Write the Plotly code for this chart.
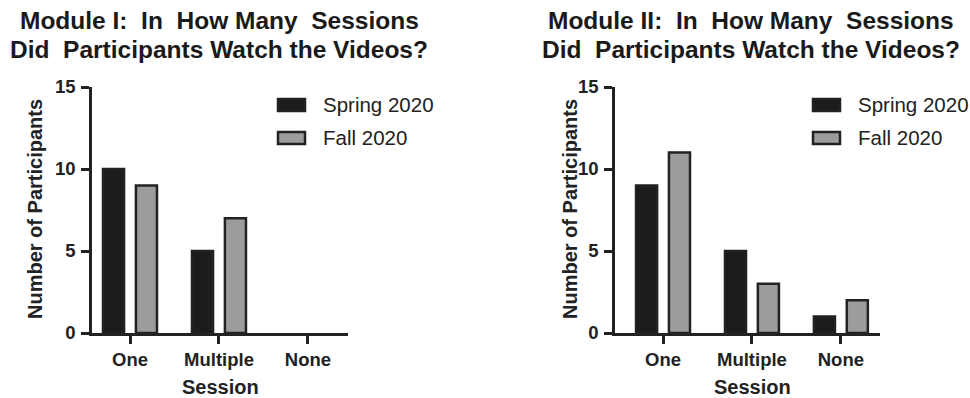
import plotly.graph_objects as go

categories = ["One", "Multiple", "None"]
series_names = ["Spring 2020", "Fall 2020"]
module1_spring = [10, 5, 0]
module1_fall = [9, 7, 0]
module2_spring = [9, 5, 1]
module2_fall = [11, 3, 2]
y_ticks = [0, 5, 10, 15]
title_lines = [
    ["Module I:  In  How Many  Sessions", "Did  Participants Watch the Videos?"],
    ["Module II:  In  How Many  Sessions", "Did  Participants Watch the Videos?"],
]
x_title = "Session"
y_title = "Number of Participants"

W, H = 970, 398
FONT = "Liberation Sans, Arial, sans-serif"
DARK = "#1c1c1c"
GRAY = "#9c9c9c"
LINE = "#222222"

fig = go.Figure()
colors = [DARK, GRAY]
for i, (sp, fa) in enumerate([(module1_spring, module1_fall), (module2_spring, module2_fall)]):
    xa = "x" if i == 0 else "x2"
    ya = "y" if i == 0 else "y2"
    for name, vals, col in zip(series_names, [sp, fa], colors):
        fig.add_trace(go.Bar(
            x=categories, y=vals, name=name, xaxis=xa, yaxis=ya,
            marker=dict(color=col, line=dict(color=LINE, width=[2.5 if v > 0 else 0 for v in vals])),
            showlegend=False, offsetgroup=name, hoverinfo="skip",
        ))

def px_x(p):
    return p / W

def px_y(p):
    return (H - p) / H

ydom = [px_y(333), px_y(87)]
axis_common = dict(
    showline=True, linewidth=2.5, linecolor=LINE, ticks="outside",
    tickwidth=2.5, tickcolor=LINE, ticklen=8, showgrid=False, zeroline=False,
    automargin=False, fixedrange=True,
    tickfont=dict(family=FONT, size=18.5, color="#222", weight="bold"),
)
fig.update_layout(
    template="none",
    width=W, height=H, margin=dict(l=0, r=0, t=0, b=0, pad=0, autoexpand=False),
    plot_bgcolor="white", paper_bgcolor="white", showlegend=False,
    bargap=0.26, bargroupgap=0.36, barmode="group",
    xaxis=dict(domain=[px_x(92), px_x(348)], range=[-0.427, 2.45], anchor="y", **axis_common),
    xaxis2=dict(domain=[px_x(615), px_x(880)], range=[-0.54, 2.44], anchor="y2", **axis_common),
    yaxis=dict(domain=ydom, range=[0, 15], tickvals=y_ticks, anchor="x", ticklabelstandoff=2, **axis_common),
    yaxis2=dict(domain=ydom, range=[0, 15], tickvals=y_ticks, anchor="x2", ticklabelstandoff=2, **axis_common),
)

annotations = []
shapes = []
panels = [
    dict(title_x=219, ytitle_x=35, xtitle_x=220, leg_x=278),
    dict(title_x=751, ytitle_x=570, xtitle_x=752, leg_x=813),
]
for lines, p in zip(title_lines, panels):
    for j, line in enumerate(lines):
        annotations.append(dict(text=line, x=px_x(p["title_x"]), y=px_y(21 + 28 * j), xref="paper", yref="paper",
                                xanchor="center", yanchor="middle", showarrow=False,
                                font=dict(family=FONT, size=24.5, color="#1a1a1a", weight="bold")))
    annotations.append(dict(text=y_title, x=px_x(p["ytitle_x"]), y=px_y(209), xref="paper", yref="paper",
                            xanchor="center", yanchor="middle", showarrow=False, textangle=-90,
                            font=dict(family=FONT, size=20, color="#222", weight="bold")))
    annotations.append(dict(text=x_title, x=px_x(p["xtitle_x"]), y=px_y(387), xref="paper", yref="paper",
                            xanchor="center", yanchor="middle", showarrow=False,
                            font=dict(family=FONT, size=20, color="#222", weight="bold")))
    for k, (name, col) in enumerate(zip(series_names, colors)):
        cy = 105 + 33 * k
        shapes.append(dict(type="rect", xref="paper", yref="paper",
                           x0=px_x(p["leg_x"]), x1=px_x(p["leg_x"] + 27),
                           y0=px_y(cy - 6), y1=px_y(cy + 6),
                           fillcolor=col, line=dict(color=LINE, width=2.5)))
        annotations.append(dict(text=name, x=px_x(p["leg_x"] + 43), y=px_y(cy), xref="paper", yref="paper",
                                xanchor="left", yanchor="middle", showarrow=False,
                                font=dict(family=FONT, size=20.5, color="#222")))
fig.update_layout(annotations=annotations, shapes=shapes)

fig.write_html("out.html", config={"displayModeBar": False},
               post_script="document.body.style.margin='0';document.body.style.overflow='hidden';")
